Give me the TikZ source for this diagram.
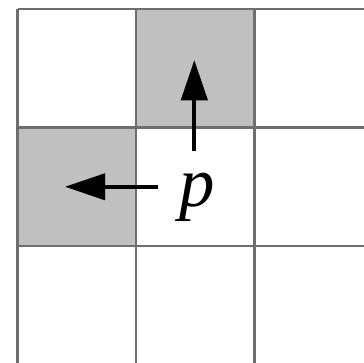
\documentclass[tikz,border=0pt]{standalone}
\usepackage{fontspec}
\setmainfont{Liberation Serif}
\usepackage{tikz}
\usetikzlibrary{arrows.meta, positioning}
\usepackage{xcolor}
\definecolor{gridline}{RGB}{110,110,110}
\definecolor{cellgray}{RGB}{192,192,192}

\begin{document}
\begin{tikzpicture}[>={Triangle[length=0.34cm, width=0.22cm]}]
  \useasboundingbox (-0.148,0.013) rectangle (2.924,3.076);
  \clip (-0.148,0.013) rectangle (2.924,3.076);
  \fill[white] (-0.148,0.013) rectangle (2.924,3.076);
  % neighbour cells
  \fill[cellgray] (1,2) rectangle (2,3);
  \fill[cellgray] (0,1) rectangle (1,2);
  \draw[gridline, line width=0.5pt] (0,-0.5) grid (3.5,3);
  \node[font=\fontsize{17}{20}\selectfont\itshape, inner sep=0pt, anchor=base] (p) at (1.52,1.33) {p};
  \coordinate (upTail) at (1.492,1.80);
  \coordinate (upTip) at (1.492,2.57);
  \coordinate (leftTail) at (1.186,1.5);
  \coordinate (leftTip) at (0.40,1.5);
  \draw[->, line width=1pt] (upTail) -- (upTip);
  \draw[->, line width=1pt] (leftTail) -- (leftTip);
\end{tikzpicture}
\end{document}
